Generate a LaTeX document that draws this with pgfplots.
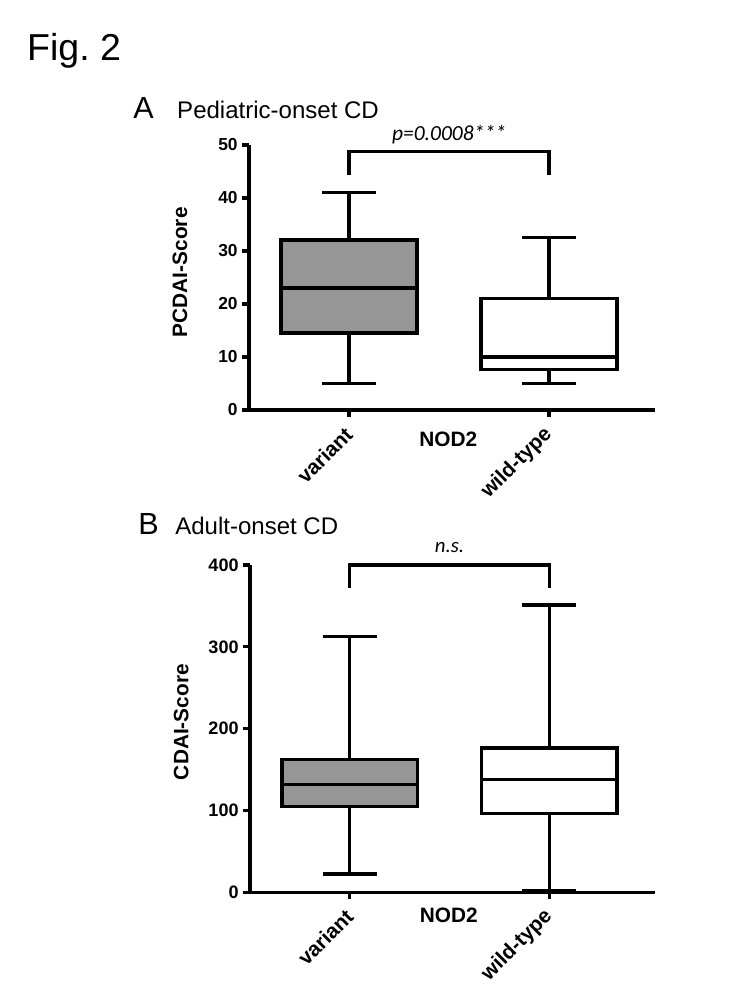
\documentclass[border=0pt]{standalone}
\usepackage{fontspec}
\setmainfont{Liberation Sans}
\newfontfamily\carlito{Carlito}
\usepackage{pgfplots}
\pgfplotsset{compat=1.18}
\definecolor{boxgray}{RGB}{150,150,150}
\pgfplotsset{
  mystyle/.style={
    scale only axis,
    anchor=south west,
    axis x line*=bottom,
    axis y line*=left,
    axis line style={-, line width=2.3pt, black},
    tick align=outside,
    major tick length=5pt,
    tick style={line width=2.3pt, black},
    xmin=0.5, xmax=2.53,
    xtick={1,2},
    xticklabels={variant,wild-type},
    xticklabel style={font=\fontsize{15}{18}\selectfont\bfseries, rotate=45, anchor=east, inner sep=0pt},
    xticklabel shift=10pt,
    yticklabel style={font=\fontsize{13}{15}\selectfont\bfseries, inner sep=0pt},
    yticklabel shift=3pt,
    /pgf/number format/assume math mode=true,
    ylabel style={font=\fontsize{15}{18}\selectfont\bfseries, anchor=center},
    clip=false,
    enlargelimits=false,
  },
  ln/.style={black, line width=2.4pt, mark=none, line join=miter},
}
\begin{document}
\begin{tikzpicture}
\path[use as bounding box] (0,0) rectangle (540pt,720pt);
\node[anchor=base west, inner sep=0pt, font=\fontsize{27}{32}\selectfont] at (19.4pt,676.6pt) {Fig.\ 2};
\node[anchor=base west, inner sep=0pt, font=\fontsize{22}{26}\selectfont] at (95.8pt,635pt) {A};
\node[anchor=base west, inner sep=0pt, font=\fontsize{17.3}{21}\selectfont] at (127.4pt,635pt) {Pediatric-onset CD};
\node[anchor=base west, inner sep=0pt, font=\fontsize{22}{26}\selectfont] at (99.4pt,334.8pt) {B};
\node[anchor=base west, inner sep=0pt, font=\fontsize{17.3}{21}\selectfont] at (126pt,334.8pt) {Adult-onset CD};

% Panel A: variant (1): whiskers 5/41, Q1 14.5, median 23, Q3 32.1
%          wild-type (2): whiskers 5/32.5, Q1 7.6, median 10, Q3 21
\begin{axis}[mystyle, at={(179.3pt,424.8pt)}, width=292.3pt, height=190.8pt,
  ymin=0, ymax=50, ytick={0,10,20,30,40,50},
  yticklabel style={font=\fontsize{12.5}{15}\selectfont\bfseries},
  ylabel={PCDAI-Score}, ylabel style={at={(axis description cs:-0.17,0.52)}}]
% variant
\addplot[ln] coordinates {(1,32.1) (1,41)};
\addplot[ln] coordinates {(1,5) (1,14.5)};
\addplot[ln] coordinates {(0.865,41) (1.135,41)};
\addplot[ln] coordinates {(0.865,5) (1.135,5)};
\addplot[ln, fill=boxgray] coordinates {(0.66,14.5) (1.34,14.5) (1.34,32.1) (0.66,32.1)} -- cycle;
\addplot[ln] coordinates {(0.66,23) (1.34,23)};
% wild-type
\addplot[ln] coordinates {(2,21) (2,32.5)};
\addplot[ln] coordinates {(2,5) (2,7.6)};
\addplot[ln] coordinates {(1.865,32.5) (2.135,32.5)};
\addplot[ln] coordinates {(1.865,5) (2.135,5)};
\addplot[ln, fill=white] coordinates {(1.66,7.6) (2.34,7.6) (2.34,21) (1.66,21)} -- cycle;
\addplot[ln] coordinates {(1.66,10) (2.34,10)};
% bracket
\addplot[ln] coordinates {(1,44.3) (1,48.8) (2,48.8) (2,44.3)};
\node[anchor=base, inner sep=0pt, font=\carlito\itshape\fontsize{15.5}{18}\selectfont] at (axis cs:1.5,50.9) {p=0.0008***};
\node[anchor=center, inner sep=0pt, font=\fontsize{15}{18}\selectfont\bfseries] at (axis description cs:0.491,-0.109) {NOD2};
\end{axis}

% Panel B: variant (1): whiskers 22.5/312.5, Q1 104.6, median 132, Q3 162
%          wild-type (2): whiskers 2.5/351, Q1 96.6, median 138, Q3 176.5
\begin{axis}[mystyle, at={(180pt,77.5pt)}, width=291.6pt, height=235.7pt,
  ymin=0, ymax=400, ytick={0,100,200,300,400},
  ylabel={CDAI-Score}, ylabel style={at={(axis description cs:-0.17,0.52)}}]
\addplot[ln] coordinates {(1,162) (1,312.5)};
\addplot[ln] coordinates {(1,22.5) (1,104.6)};
\addplot[ln] coordinates {(0.865,312.5) (1.135,312.5)};
\addplot[ln] coordinates {(0.865,22.5) (1.135,22.5)};
\addplot[ln, fill=boxgray] coordinates {(0.66,104.6) (1.34,104.6) (1.34,162) (0.66,162)} -- cycle;
\addplot[ln] coordinates {(0.66,132) (1.34,132)};
\addplot[ln] coordinates {(2,176.5) (2,351)};
\addplot[ln] coordinates {(2,2.5) (2,96.6)};
\addplot[ln] coordinates {(1.865,351) (2.135,351)};
\addplot[ln] coordinates {(1.865,2.5) (2.135,2.5)};
\addplot[ln, fill=white] coordinates {(1.66,96.6) (2.34,96.6) (2.34,176.5) (1.66,176.5)} -- cycle;
\addplot[ln] coordinates {(1.66,138) (2.34,138)};
\addplot[ln] coordinates {(1,372) (1,400) (2,400) (2,372)};
\node[anchor=base, inner sep=0pt, font=\carlito\itshape\fontsize{15}{17}\selectfont] at (axis cs:1.5,414.8) {n.s.};
\node[anchor=center, inner sep=0pt, font=\fontsize{15}{18}\selectfont\bfseries] at (axis description cs:0.491,-0.071) {NOD2};
\end{axis}
\end{tikzpicture}
\end{document}
